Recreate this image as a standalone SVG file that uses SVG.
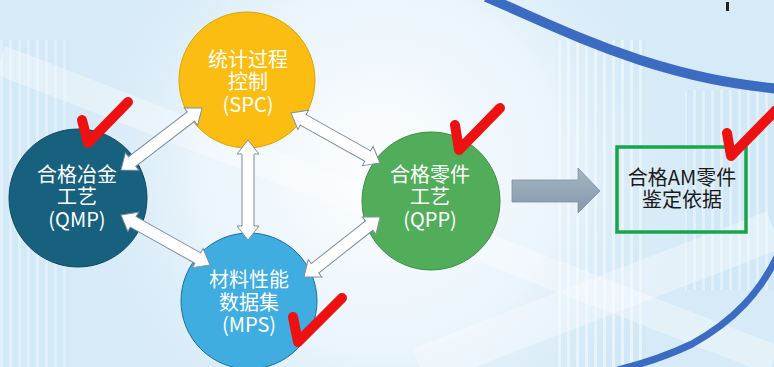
<svg xmlns="http://www.w3.org/2000/svg" width="774" height="367" viewBox="0 0 774 367">
  <defs>
    <radialGradient id="bgGlow" cx="380" cy="170" r="330" gradientUnits="userSpaceOnUse">
      <stop offset="0" stop-color="#ffffff" stop-opacity="0.95"/>
      <stop offset="0.55" stop-color="#f3f9fd" stop-opacity="0.7"/>
      <stop offset="1" stop-color="#d6ebf8" stop-opacity="0"/>
    </radialGradient>
    <linearGradient id="bigArrow" x1="0" y1="0" x2="0" y2="1">
      <stop offset="0" stop-color="#a5b5c4"/>
      <stop offset="1" stop-color="#8598ab"/>
    </linearGradient>
    <pattern id="stripes" width="9" height="10" patternUnits="userSpaceOnUse">
      <rect width="9" height="10" fill="#cfe6f6"/>
      <rect x="0" width="3" height="10" fill="#ffffff" opacity="0.75"/>
    </pattern>
    <style>
      .node-text { font-family: "Noto Sans CJK SC", "Noto Sans", sans-serif; font-size: 20px; text-anchor: middle; fill: #ffffff; }
      .box-text { font-family: "Noto Sans CJK SC", "Noto Sans", sans-serif; font-size: 20px; text-anchor: middle; fill: #1a1a1a; }
      .dbl { fill: #ffffff; stroke: #7f8f9c; stroke-width: 1; stroke-linejoin: miter; }
      .check { fill: none; stroke: #ee1111; stroke-width: 10; stroke-linecap: round; stroke-linejoin: round; }
      .curve { fill: none; stroke: #3b6cc2; }
    </style>
  </defs>

  <!-- background -->
  <g id="background">
    <rect width="774" height="367" fill="#d6eaf7"/>
    <rect x="555" y="40" width="90" height="327" fill="url(#stripes)" opacity="0.7"/>
    <rect x="0" y="40" width="70" height="327" fill="url(#stripes)" opacity="0.35"/>
    <rect x="685" y="90" width="89" height="200" fill="url(#stripes)" opacity="0.4"/>
    <rect width="774" height="367" fill="url(#bgGlow)"/>
    <path d="M0,60 L774,360" stroke="#ffffff" stroke-width="30" opacity="0.35"/>
    <path d="M420,367 L774,230" stroke="#ffffff" stroke-width="40" opacity="0.35"/>
    <path class="curve" stroke-width="10" d="M486,-3 C540,20 580,40 640,60 C690,76 730,84 780,89"/>
    <path class="curve" stroke-width="7" d="M778,255 C760,292 735,320 692,344 C667,356 642,364 618,370"/>
    <rect x="726" y="2" width="3" height="9" fill="#222222"/>
  </g>

  <!-- nodes -->
  <g id="node-spc">
    <circle cx="247" cy="80" r="68" fill="#fbbd12" stroke="#d9a30a" stroke-width="1"/>
    <text class="node-text" x="248" y="67">统计过程<tspan x="248" dy="22">控制</tspan><tspan x="248" dy="23">(SPC)</tspan></text>
  </g>
  <g id="node-qmp">
    <circle cx="78" cy="198" r="69" fill="#17607e" stroke="#0f4861" stroke-width="1"/>
    <text class="node-text" x="77" y="182">合格冶金<tspan x="77" dy="22">工艺</tspan><tspan x="77" dy="23">(QMP)</tspan></text>
  </g>
  <g id="node-qpp">
    <circle cx="431" cy="201" r="69" fill="#52ad5a" stroke="#3f8c46" stroke-width="1"/>
    <text class="node-text" x="430" y="182">合格零件<tspan x="430" dy="22">工艺</tspan><tspan x="430" dy="23">(QPP)</tspan></text>
  </g>
  <g id="node-mps">
    <circle cx="249" cy="301" r="68" fill="#3fade0" stroke="#1f6f97" stroke-width="1"/>
    <text class="node-text" x="249" y="287">材料性能<tspan x="249" dy="23">数据集</tspan><tspan x="249" dy="22">(MPS)</tspan></text>
  </g>
  <g id="node-result">
    <rect x="617" y="147" width="129" height="85" fill="none" stroke="#17a64a" stroke-width="3.5"/>
    <text class="box-text" x="682" y="185">合格AM零件<tspan x="682" dy="22">鉴定依据</tspan></text>
  </g>

  <!-- connectors -->
  <g id="connectors">
    <polygon class="dbl" transform="translate(121,170) rotate(-37.4)" points="0,0 14,-11 14,-6 88,-6 88,-11 102,0 88,11 88,6 14,6 14,11"/>
    <polygon class="dbl" transform="translate(248,140) rotate(90)" points="0,0 14,-11 14,-6 86,-6 86,-11 100,0 86,11 86,6 14,6 14,11"/>
    <polygon class="dbl" transform="translate(291,113) rotate(29.3)" points="0,0 14,-11 14,-6 88,-6 88,-11 102,0 88,11 88,6 14,6 14,11"/>
    <polygon class="dbl" transform="translate(121,215) rotate(29.3)" points="0,0 14,-11 14,-6 88,-6 88,-11 102,0 88,11 88,6 14,6 14,11"/>
    <polygon class="dbl" transform="translate(304,277) rotate(-38.3)" points="0,0 14,-11 14,-6 83,-6 83,-11 97,0 83,11 83,6 14,6 14,11"/>
    <polygon points="512,180 578,180 578,168 600,191 578,213 578,202 512,202" fill="url(#bigArrow)" stroke="#7d8fa0" stroke-width="0.8"/>
  </g>

  <!-- check marks -->
  <g id="checks">
    <path class="check" d="M82,120 L88,143 L128,102"/>
    <path class="check" d="M455,125 L459,150 L500,108"/>
    <path class="check" d="M293,317 L298,342 L342,298"/>
    <path class="check" d="M727,133 L731,156 L776,110"/>
  </g>
</svg>
